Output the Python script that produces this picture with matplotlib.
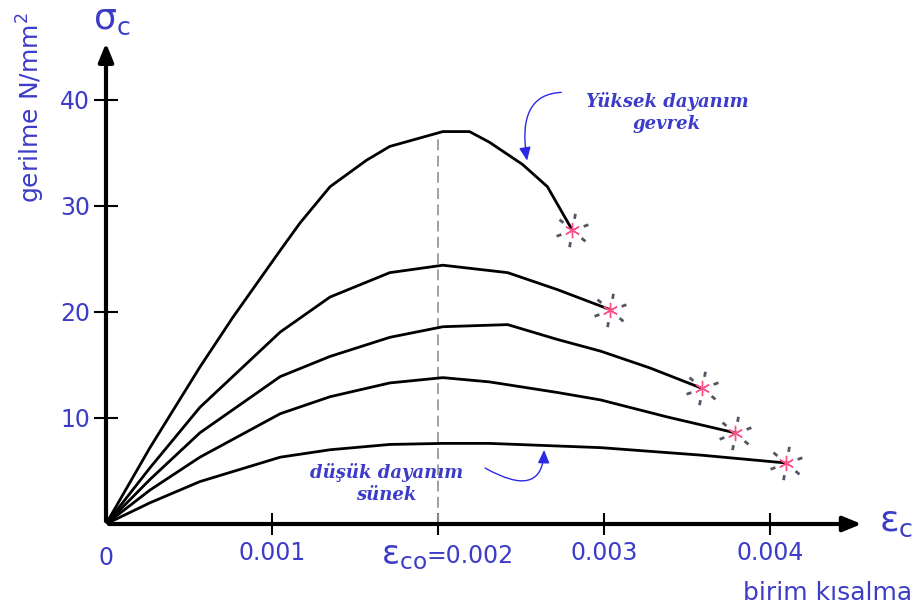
import matplotlib
matplotlib.use("Agg")
from matplotlib import pyplot as plt
from matplotlib.path import Path
import numpy as np

plt.rcParams['font.family'] = ['DejaVu Sans']
plt.rcParams['mathtext.default'] = 'regular'

# strain (birim kisalma) and stress (gerilme, N/mm2), one pair per curve
eps_1 = [0, 0.000265, 0.000566, 0.000765, 0.00105, 0.00117, 0.00135, 0.00157, 0.00171, 0.00203, 0.00219, 0.00231, 0.00251, 0.00266, 0.00281]
sig_1 = [0, 7.2, 14.8, 19.5, 25.8, 28.4, 31.8, 34.3, 35.6, 37.0, 37.0, 36.0, 33.9, 31.8, 27.7]
eps_2 = [0, 0.000265, 0.000566, 0.00105, 0.00135, 0.00171, 0.00203, 0.00242, 0.00272, 0.00304]
sig_2 = [0, 5.3, 11.0, 18.1, 21.4, 23.7, 24.4, 23.7, 22.1, 20.2]
eps_3 = [0, 0.000265, 0.000566, 0.00105, 0.00135, 0.00171, 0.00203, 0.00242, 0.00272, 0.00298, 0.00328, 0.00359]
sig_3 = [0, 4.2, 8.6, 13.9, 15.8, 17.6, 18.6, 18.8, 17.4, 16.3, 14.7, 12.8]
eps_4 = [0, 0.000265, 0.000566, 0.00105, 0.00135, 0.00171, 0.00203, 0.00231, 0.00272, 0.00298, 0.00338, 0.00379]
sig_4 = [0, 3.2, 6.3, 10.4, 12.0, 13.3, 13.8, 13.4, 12.4, 11.7, 10.1, 8.6]
eps_5 = [0, 0.000265, 0.000566, 0.00105, 0.00135, 0.00171, 0.00203, 0.00231, 0.00298, 0.00358, 0.00410]
sig_5 = [0, 2.0, 4.0, 6.3, 7.0, 7.5, 7.6, 7.6, 7.2, 6.5, 5.75]
curves = [(eps_1, sig_1), (eps_2, sig_2), (eps_3, sig_3), (eps_4, sig_4), (eps_5, sig_5)]

eps_co = 0.002
x_ticks = [0, 0.001, 0.002, 0.003, 0.004]
x_labels = ['0', '0.001', '', '0.003', '0.004']
y_ticks = [10, 20, 30, 40]

blue = '#3c3cc8'
arrow_blue = '#2a2ae6'

# burst marker for the failure points: short dashes on a ring
ang = np.deg2rad([20, 80, 140, 200, 260, 320])
verts, codes = [], []
for a in ang:
    verts += [(0.7 * np.cos(a), 0.7 * np.sin(a)), (1.0 * np.cos(a), 1.0 * np.sin(a))]
    codes += [Path.MOVETO, Path.LINETO]
ring = Path(verts, codes)

fig = plt.figure(figsize=(9.15, 6.12), dpi=100)
ax = fig.add_axes([106 / 915, 88 / 612, 775 / 915, 490 / 612])
ax.set_xlim(0, 0.00467)
ax.set_ylim(0, 46.2)
for s in ax.spines.values():
    s.set_visible(False)

# axes with arrow heads
ax.annotate('', xy=(0.00457, 0), xytext=(0, 0),
            arrowprops=dict(arrowstyle='-|>,head_length=1.1,head_width=0.45', color='black', lw=3),
            annotation_clip=False)
ax.annotate('', xy=(0, 45.6), xytext=(0, 0),
            arrowprops=dict(arrowstyle='-|>,head_length=1.1,head_width=0.45', color='black', lw=3),
            annotation_clip=False)

ax.set_xticks(x_ticks[1:])
ax.set_xticklabels(x_labels[1:])
ax.set_yticks(y_ticks)
ax.tick_params(direction='inout', length=17, width=1.5, colors='black',
               labelcolor=blue, labelsize=17, pad=3)
ax.tick_params(axis='x', length=16, pad=4)
ax.text(0, -2.1, x_labels[0], color=blue, fontsize=17, ha='center', va='top')

# the eps_co tick label, with a big epsilon
ax.annotate(r'$\varepsilon_{co}$', xy=(eps_co, 0), xytext=(-11, -32), textcoords='offset pixels',
            color=blue, fontsize=24, ha='right', va='center', annotation_clip=False)
ax.annotate('=0.002', xy=(eps_co, 0), xytext=(-11, -32), textcoords='offset pixels',
            color=blue, fontsize=17, ha='left', va='center', annotation_clip=False)

ax.vlines(eps_co, 0, max(sig_1), colors='#999999', linestyles=(0, (6, 3)), lw=1.3)

for e, s in curves:
    ax.plot(e, s, color='black', lw=2)
    ax.plot(e[-1], s[-1], marker=(6, 2, 0), color='#ff4f86', ms=11, mew=1, zorder=5)
    ax.plot(e[-1], s[-1], marker=ring, color='#555566', ms=24, mew=2,
            ls='none', zorder=4)

ax.text(0.00338, 38.8, 'Yüksek dayanım\ngevrek', color=blue, fontsize=13, fontweight='bold',
        style='italic', family='DejaVu Serif', ha='center', va='center', linespacing=1.3)
ax.annotate('', xy=(0.00254, 34.0), xytext=(0.00276, 40.7),
            arrowprops=dict(arrowstyle='-|>,head_length=0.8,head_width=0.35', color=arrow_blue, lw=1,
                            connectionstyle='angle3,angleA=180,angleB=100'))
ax.text(0.00169, 3.8, 'düşük dayanım\nsünek', color=blue, fontsize=13, fontweight='bold',
        style='italic', family='DejaVu Serif', ha='center', va='center', linespacing=1.3)
ax.annotate('', xy=(0.00264, 7.25), xytext=(0.00227, 5.4),
            arrowprops=dict(arrowstyle='-|>,head_length=0.8,head_width=0.35', color=arrow_blue, lw=1,
                            connectionstyle='angle3,angleA=-30,angleB=90'))

fig.text(112 / 915, 1 - 20 / 612, r'$\sigma_{c}$', color=blue, fontsize=26, ha='center', va='center')
fig.text(896 / 915, 1 - 522 / 612, r'$\varepsilon_{c}$', color=blue, fontsize=26, ha='center', va='center')
fig.text(31 / 915, 1 - 108 / 612, 'gerilme N/mm$^2$', color=blue, fontsize=18,
         rotation=90, ha='center', va='center')
fig.text(828 / 915, 1 - 593 / 612, 'birim kısalma', color=blue, fontsize=18, ha='center', va='center')

fig.savefig('out.png', dpi=100)
